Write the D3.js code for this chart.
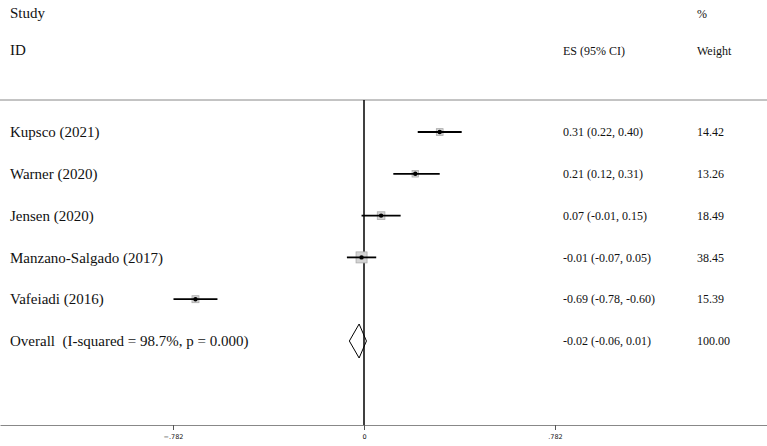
<!DOCTYPE html>
<html lang="en">
  <head>
    <meta charset="utf-8">
    <title>Forest plot</title>
    <script src="https://cdn.jsdelivr.net/npm/d3@7"></script>
    <style>
      body { margin: 0; background: #fff; }
      text { font-family: "Liberation Serif", "Times New Roman", serif; fill: #111; white-space: pre; }
    </style>
  </head>
  <body>
    <script>
    // study data
    var studies = ["Kupsco (2021)", "Warner (2020)", "Jensen (2020)", "Manzano-Salgado (2017)", "Vafeiadi (2016)"];
    var es = [0.31, 0.21, 0.07, -0.01, -0.69];
    var lower = [0.22, 0.12, -0.01, -0.07, -0.78];
    var upper = [0.40, 0.31, 0.15, 0.05, -0.60];
    var weights = [14.42, 13.26, 18.49, 38.45, 15.39];
    var ciLabels = ["0.31 (0.22, 0.40)", "0.21 (0.12, 0.31)", "0.07 (-0.01, 0.15)", "-0.01 (-0.07, 0.05)", "-0.69 (-0.78, -0.60)"];

    // overall
    var overallLabel = "Overall  (I-squared = 98.7%, p = 0.000)";
    var overall = [-0.02, -0.06, 0.01];
    var overallCI = "-0.02 (-0.06, 0.01)";
    var overallWeight = "100.00";

    var tickVals = [-0.782, 0, 0.782];

    var w = 767, h = 446;
    var svg = d3.select("body").append("svg").attr("width", w).attr("height", h);

    // 0 sits at x=364, 0.782 is about 191px away
    var pxPerUnit = 191 / 0.782;
    var x = d3.scaleLinear()
              .domain([-364 / pxPerUnit, (w - 364) / pxPerUnit])
              .range([0, w]);

    var rows = studies.concat([overallLabel]);
    var y = d3.scalePoint().domain(d3.range(rows.length)).range([132, 341]);

    var topY = 100, axisY = 425;

    // header
    svg.append("text").attr("x", 10).attr("y", 18).style("font-size", "15px").text("Study");
    svg.append("text").attr("x", 10).attr("y", 55).style("font-size", "15px").text("ID");
    svg.append("text").attr("x", 697).attr("y", 18).style("font-size", "12px").text("%");
    svg.append("text").attr("x", 563).attr("y", 55).style("font-size", "12px").text("ES (95% CI)");
    svg.append("text").attr("x", 697).attr("y", 55).style("font-size", "12px").text("Weight");

    svg.append("line").attr("x1", 0).attr("x2", w).attr("y1", topY).attr("y2", topY)
       .attr("stroke", "#888").attr("stroke-width", 1);

    // null line
    svg.append("line").attr("x1", x(0)).attr("x2", x(0)).attr("y1", topY).attr("y2", axisY)
       .attr("stroke", "#000").attr("stroke-width", 1.5);

    // axis
    var axis = d3.axisBottom(x).tickValues(tickVals).tickSizeInner(5).tickSizeOuter(0)
                 .tickFormat(function(d) { return d === 0 ? "0" : d3.format(".3f")(d).replace("0.", "."); });
    var ax = svg.append("g").attr("transform", "translate(0," + axisY + ")").call(axis);
    ax.select(".domain").attr("stroke", "#888");
    ax.selectAll(".tick line").attr("stroke", "#555");
    ax.selectAll(".tick text").style("font-family", "'DejaVu Sans', sans-serif")
      .style("font-size", "6.5px").attr("dy", "0.9em");

    // row labels
    svg.selectAll(".lab").data(rows).enter().append("text")
       .attr("x", 10).attr("y", function(d, i) { return y(i); }).attr("dy", "0.35em")
       .style("font-size", "15px").text(function(d) { return d; });

    var ciText = ciLabels.concat([overallCI]);
    var wText = weights.map(function(d) { return d3.format(".2f")(d); }).concat([overallWeight]);
    svg.selectAll(".ci").data(ciText).enter().append("text")
       .attr("x", 563).attr("y", function(d, i) { return y(i); }).attr("dy", "0.35em")
       .style("font-size", "12px").text(function(d) { return d; });
    svg.selectAll(".wt").data(wText).enter().append("text")
       .attr("x", 697).attr("y", function(d, i) { return y(i); }).attr("dy", "0.35em")
       .style("font-size", "12px").text(function(d) { return d; });

    // weight boxes
    var boxSize = d3.scaleSqrt().domain([0, 38.45]).range([0, 11]);
    svg.selectAll(".box").data(weights).enter().append("rect")
       .attr("x", function(d, i) { return x(es[i]) - boxSize(d) / 2; })
       .attr("y", function(d, i) { return y(i) - boxSize(d) / 2; })
       .attr("width", function(d) { return boxSize(d); })
       .attr("height", function(d) { return boxSize(d); })
       .attr("fill", "#d4d4d4").attr("stroke", "#aaa").attr("stroke-width", 0.8);

    // CI lines
    svg.selectAll(".ciline").data(es).enter().append("line")
       .attr("x1", function(d, i) { return x(lower[i]); })
       .attr("x2", function(d, i) { return x(upper[i]); })
       .attr("y1", function(d, i) { return y(i); })
       .attr("y2", function(d, i) { return y(i); })
       .attr("stroke", "#000").attr("stroke-width", 1.8);

    // point estimates
    svg.selectAll(".pt").data(es).enter().append("circle")
       .attr("cx", function(d) { return x(d); })
       .attr("cy", function(d, i) { return y(i); })
       .attr("r", 2.2).attr("fill", "#000");

    // overall diamond
    var oy = y(rows.length - 1), half = 17;
    var diamond = [[x(overall[1]), oy], [x(overall[0]), oy - half], [x(overall[2]), oy], [x(overall[0]), oy + half]];
    svg.append("path").attr("d", d3.line()(diamond) + "Z")
       .attr("fill", "none").attr("stroke", "#000").attr("stroke-width", 1);
    </script>
  </body>
</html>
